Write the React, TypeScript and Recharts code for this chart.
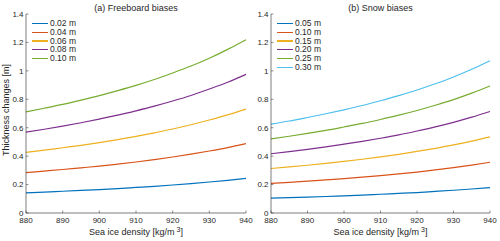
import React from "react";
import { LineChart, Line, XAxis, YAxis } from "recharts";

const density = [880, 885, 890, 895, 900, 905, 910, 915, 920, 925, 930, 935, 940];

// (a) freeboard biases
const fb002 = [0.142, 0.147, 0.153, 0.159, 0.165, 0.172, 0.18, 0.188, 0.197, 0.207, 0.218, 0.23, 0.244];
const fb004 = [0.284, 0.295, 0.306, 0.318, 0.33, 0.344, 0.359, 0.376, 0.394, 0.414, 0.436, 0.46, 0.488];
const fb006 = [0.427, 0.442, 0.459, 0.476, 0.495, 0.516, 0.539, 0.564, 0.591, 0.621, 0.654, 0.69, 0.731];
const fb008 = [0.569, 0.589, 0.611, 0.635, 0.661, 0.688, 0.719, 0.752, 0.788, 0.827, 0.872, 0.92, 0.975];
const fb010 = [0.711, 0.737, 0.764, 0.794, 0.826, 0.861, 0.898, 0.939, 0.985, 1.034, 1.089, 1.151, 1.219];

// (b) snow biases
const sn005 = [0.104, 0.108, 0.112, 0.116, 0.121, 0.126, 0.132, 0.138, 0.144, 0.152, 0.16, 0.169, 0.179];
const sn010 = [0.208, 0.216, 0.224, 0.233, 0.242, 0.252, 0.263, 0.275, 0.288, 0.303, 0.319, 0.337, 0.357];
const sn015 = [0.313, 0.324, 0.336, 0.349, 0.363, 0.378, 0.395, 0.413, 0.433, 0.455, 0.479, 0.506, 0.536];
const sn020 = [0.417, 0.432, 0.448, 0.465, 0.484, 0.504, 0.526, 0.55, 0.577, 0.606, 0.638, 0.674, 0.714];
const sn025 = [0.521, 0.54, 0.56, 0.581, 0.605, 0.63, 0.658, 0.688, 0.721, 0.758, 0.798, 0.843, 0.893];
const sn030 = [0.625, 0.647, 0.672, 0.698, 0.726, 0.756, 0.79, 0.826, 0.865, 0.909, 0.957, 1.011, 1.071];

const fbLabels = ["0.02 m", "0.04 m", "0.06 m", "0.08 m", "0.10 m"];
const snLabels = ["0.05 m", "0.10 m", "0.15 m", "0.20 m", "0.25 m", "0.30 m"];
const xTicks = [880, 890, 900, 910, 920, 930, 940];
const yTicks = [0, 0.2, 0.4, 0.6, 0.8, 1, 1.2, 1.4];

const colors = ["#0072BD", "#D95319", "#EDB120", "#7E2F8E", "#77AC30", "#4DBEEE"];
const FONT = "'Liberation Sans', Arial, sans-serif";
const AX = "#262626";

function buildRows(series: number[][]) {
  return density.map((d, i) => {
    const row: Record<string, number> = { density: d };
    series.forEach((s, k) => (row["s" + k] = s[i]));
    return row;
  });
}

const fbData = buildRows([fb002, fb004, fb006, fb008, fb010]);
const snData = buildRows([sn005, sn010, sn015, sn020, sn025, sn030]);

const tickStyle = { fontSize: 8, fill: AX, fontFamily: FONT };
const noTick = () => <g />;

function fmtY(v: number) {
  return String(Math.round(v * 10) / 10);
}

// MATLAB-style legend, no box
function LegendBox({ labels, left }: { labels: string[]; left: number }) {
  return (
    <div
      style={{
        position: "absolute",
        left,
        top: 19,
        fontFamily: FONT,
        fontSize: 8.5,
        color: AX,
        lineHeight: "8.8px",
        width: 70,
      }}
    >
      {labels.map((l, i) => (
        <div key={l} style={{ display: "flex", alignItems: "center", height: 8.8 }}>
          <span
            style={{ display: "inline-block", flexShrink: 0, width: 16, height: 1.3, background: colors[i], marginRight: 2 }}
          />
          <span style={{ whiteSpace: "nowrap" }}>{l}</span>
        </div>
      ))}
    </div>
  );
}

function XLabel({ cx }: { cx: number }) {
  return (
    <text x={cx} y={235} textAnchor="middle" fontSize={9} fill={AX} fontFamily={FONT}>
      Sea ice density [kg/m
      <tspan dy={-3} fontSize={7}> 3</tspan>
      <tspan dy={3}>]</tspan>
    </text>
  );
}

function Panel({
  data,
  labels,
  title,
  yLabel,
  x,
  yWidth,
  marginRight,
}: {
  data: Record<string, number>[];
  labels: string[];
  title: string;
  yLabel: boolean;
  x: number;
  yWidth: number;
  marginRight: number;
}) {
  const W = 260;
  const plotLeft = yWidth;
  const plotRight = W - marginRight;
  const cx = (plotLeft + plotRight) / 2;
  return (
    <div style={{ position: "absolute", left: x, top: 0, width: W, height: 241 }}>
      <LineChart width={W} height={241} data={data} margin={{ top: 14, right: marginRight, bottom: 0, left: 0 }}>
        <XAxis
          dataKey="density"
          type="number"
          domain={[880, 940]}
          ticks={xTicks}
          tick={tickStyle}
          tickSize={-2.5}
          tickMargin={7}
          tickLine={{ stroke: AX, strokeWidth: 0.5 }}
          axisLine={{ stroke: AX, strokeWidth: 0.6 }}
          height={28}
          interval={0}
        />
        <XAxis
          xAxisId="top"
          dataKey="density"
          type="number"
          orientation="top"
          domain={[880, 940]}
          ticks={xTicks}
          tick={noTick}
          tickSize={-2.5}
          tickLine={{ stroke: AX, strokeWidth: 0.5 }}
          axisLine={{ stroke: AX, strokeWidth: 0.6 }}
          height={0}
        />
        <YAxis
          type="number"
          domain={[0, 1.4]}
          ticks={yTicks}
          tick={tickStyle}
          tickFormatter={fmtY}
          tickSize={-2.5}
          tickMargin={5}
          tickLine={{ stroke: AX, strokeWidth: 0.5 }}
          axisLine={{ stroke: AX, strokeWidth: 0.6 }}
          width={yWidth}
          interval={0}
        />
        <YAxis
          yAxisId="right"
          type="number"
          orientation="right"
          domain={[0, 1.4]}
          ticks={yTicks}
          tick={noTick}
          tickSize={-2.5}
          tickLine={{ stroke: AX, strokeWidth: 0.5 }}
          axisLine={{ stroke: AX, strokeWidth: 0.6 }}
          width={0}
        />
        {labels.map((l, k) => (
          <Line
            key={l}
            dataKey={"s" + k}
            name={l}
            type="monotone"
            stroke={colors[k]}
            strokeWidth={1.2}
            dot={false}
            isAnimationActive={false}
          />
        ))}
        <text x={cx} y={11} textAnchor="middle" fontSize={9} fill={AX} fontFamily={FONT}>
          {title}
        </text>
        <XLabel cx={cx} />
        {yLabel && (
          <text
            x={0}
            y={0}
            transform={`translate(9, 110) rotate(-90)`}
            textAnchor="middle"
            fontSize={9}
            fill={AX}
            fontFamily={FONT}
          >
            Thickness changes [m]
          </text>
        )}
      </LineChart>
      <LegendBox labels={labels} left={plotLeft + 6} />
    </div>
  );
}

export default function App() {
  return (
    <div style={{ position: "absolute", left: 0, top: 0, width: 500, height: 241, background: "#fff", overflow: "hidden" }}>
      <Panel data={fbData} labels={fbLabels} title="(a) Freeboard biases" yLabel x={0} yWidth={26} marginRight={14} />
      <Panel data={snData} labels={snLabels} title="(b) Snow biases" yLabel={false} x={250} yWidth={21} marginRight={20} />
    </div>
  );
}
